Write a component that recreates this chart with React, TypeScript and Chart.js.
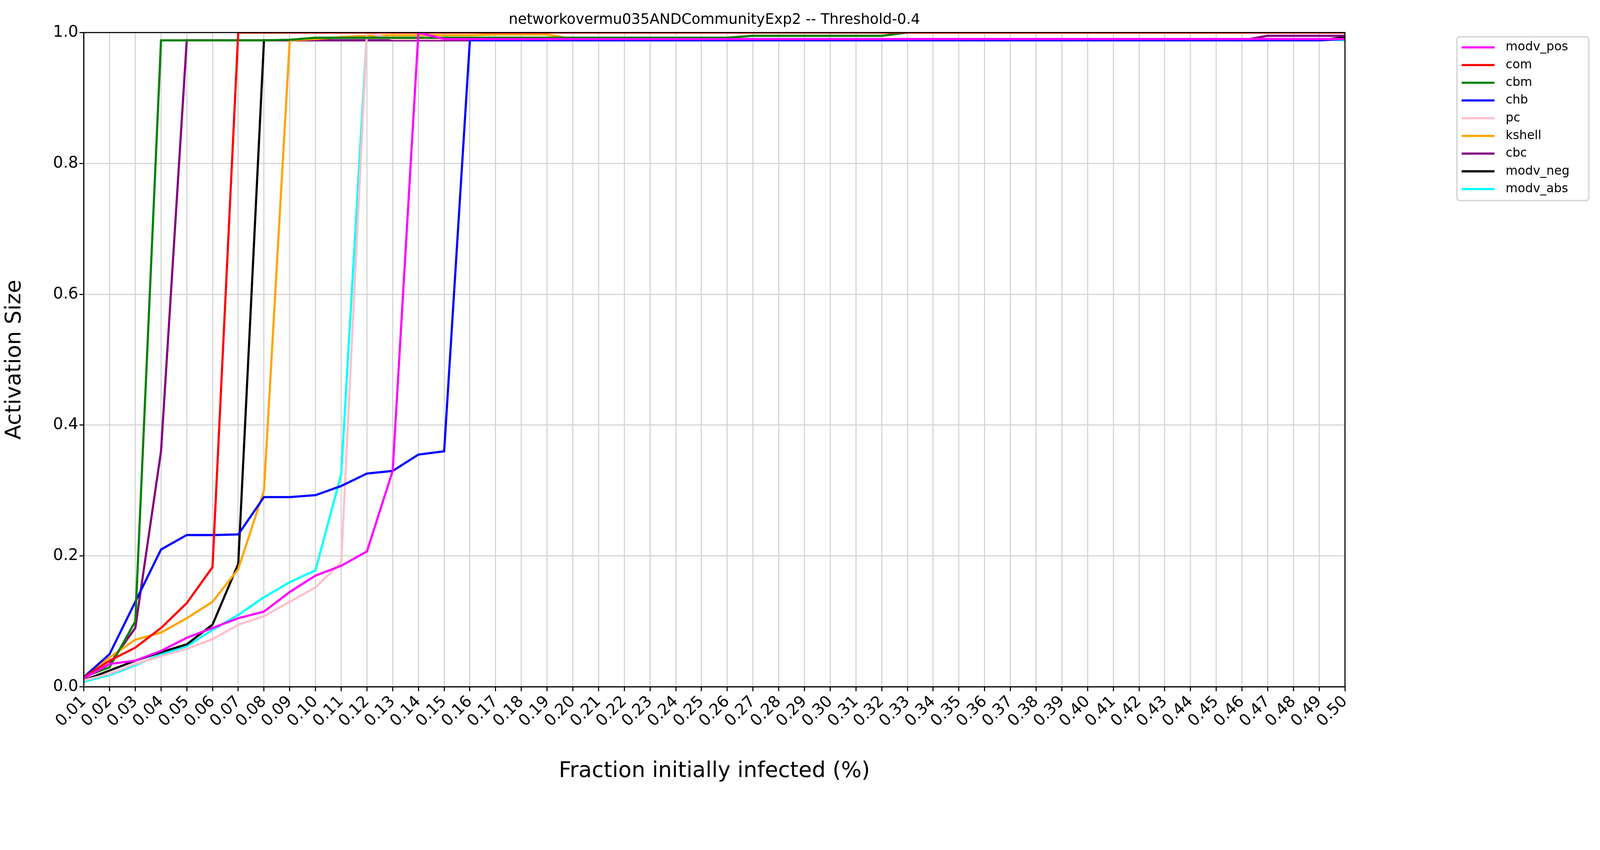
import React, { useEffect, useRef } from "react";
import { Chart, registerables } from "chart.js";

Chart.register(...registerables);

const fractions: string[] = [];
for (let i = 1; i <= 50; i++) fractions.push((i / 100).toFixed(2));

const fill = (head: number[], rest: number[]) => head.concat(rest);
const repeat = (v: number, n: number) => new Array(n).fill(v);

const modvPos = fill(
  [0.013, 0.035, 0.04, 0.055, 0.075, 0.09, 0.105, 0.115, 0.145, 0.17, 0.185, 0.207, 0.33, 1.0],
  repeat(0.99, 36)
);
const com = fill([0.015, 0.04, 0.06, 0.09, 0.128, 0.183, 1.0], repeat(1.0, 43));
const cbm = fill(
  [0.015, 0.03, 0.1, 0.988, 0.988, 0.988, 0.988, 0.988, 0.989, 0.992],
  fill(repeat(0.992, 16), fill(repeat(0.995, 6), repeat(1.0, 18)))
);
const chb = fill(
  [0.015, 0.05, 0.13, 0.21, 0.232, 0.232, 0.233, 0.29, 0.29, 0.293, 0.307, 0.326, 0.33, 0.355, 0.36, 0.988],
  fill(repeat(0.988, 33), [0.99])
);
const pc = fill(
  [0.01, 0.02, 0.035, 0.047, 0.058, 0.073, 0.095, 0.108, 0.13, 0.152, 0.19, 1.0],
  repeat(0.99, 38)
);
const kshell = fill(
  [0.015, 0.045, 0.072, 0.083, 0.105, 0.13, 0.18, 0.3, 0.988, 0.99, 0.993, 0.995, 0.996, 0.996, 0.996, 0.996, 0.997, 0.997, 0.997],
  repeat(0.99, 31)
);
const cbc = fill([0.013, 0.035, 0.09, 0.36, 0.988], fill(repeat(0.988, 41), [0.995, 0.995, 0.995, 0.995]));
const modvNeg = fill([0.01, 0.025, 0.04, 0.053, 0.065, 0.095, 0.188, 0.988], fill(repeat(0.988, 41), [0.993]));
const modvAbs = fill(
  [0.008, 0.018, 0.033, 0.05, 0.062, 0.087, 0.11, 0.137, 0.16, 0.178, 0.325, 1.0],
  fill(repeat(0.99, 37), [0.988])
);

const seriesNames = ["modv_pos", "com", "cbm", "chb", "pc", "kshell", "cbc", "modv_neg", "modv_abs"];
const seriesValues = [modvPos, com, cbm, chb, pc, kshell, cbc, modvNeg, modvAbs];
const seriesColors = ["#ff00ff", "#ff0000", "#008000", "#0000ff", "#ffc0cb", "#ffa500", "#800080", "#000000", "#00ffff"];

const W = 4429;
const H = 2175;
const FONT = "'DejaVu Sans', sans-serif";

export default function App() {
  const ref = useRef<HTMLCanvasElement | null>(null);
  // scale to whatever css viewport we actually get
  const s = Math.min(window.innerWidth / W, window.innerHeight / H) || 1;
  const cw = Math.floor(W * s);
  const ch = Math.floor(H * s);

  useEffect(() => {
    if (!ref.current) return;

    const decor = {
      id: "decor",
      afterDraw(chart: any) {
        const { ctx, chartArea: a } = chart;
        ctx.save();
        ctx.strokeStyle = "#000";
        ctx.lineWidth = 3 * s;
        ctx.strokeRect(a.left, a.top, a.right - a.left, a.bottom - a.top);
        ctx.fillStyle = "#000";
        ctx.font = `${40 * s}px ${FONT}`;
        ctx.textAlign = "center";
        ctx.textBaseline = "bottom";
        ctx.fillText("networkovermu035ANDCommunityExp2 -- Threshold-0.4", (a.left + a.right) / 2, a.top - 14 * s);
        // legend
        const lx = 4033 * s, ly = 102 * s, lw = 365 * s, lh = 453 * s;
        ctx.fillStyle = "#fff";
        ctx.strokeStyle = "#d6d6d6";
        ctx.lineWidth = 4 * s;
        ctx.beginPath();
        ctx.roundRect(lx, ly, lw, lh, 8 * s);
        ctx.fill();
        ctx.stroke();
        ctx.font = `${34 * s}px ${FONT}`;
        ctx.textAlign = "left";
        ctx.textBaseline = "middle";
        seriesNames.forEach((n, i) => {
          const y = ly + (29 + i * 49) * s;
          ctx.strokeStyle = seriesColors[i];
          ctx.lineWidth = 6 * s;
          ctx.beginPath();
          ctx.moveTo(lx + 13 * s, y);
          ctx.lineTo(lx + 104 * s, y);
          ctx.stroke();
          ctx.fillStyle = "#000";
          ctx.fillText(n, lx + 135 * s, y);
        });
        ctx.restore();
      },
    };

    const chart = new Chart(ref.current, {
      type: "line",
      data: {
        labels: fractions,
        datasets: seriesNames.map((n, i) => ({
          label: n,
          data: seriesValues[i],
          borderColor: seriesColors[i],
          backgroundColor: seriesColors[i],
          borderWidth: 6 * s,
          pointRadius: 0,
          tension: 0,
        })),
      },
      options: {
        animation: false,
        responsive: false,
        devicePixelRatio: window.devicePixelRatio || 1,
        layout: { padding: { top: 90 * s, right: 706 * s, left: 0, bottom: 0 } },
        plugins: { legend: { display: false }, tooltip: { enabled: false } },
        scales: {
          x: {
            offset: false,
            afterFit: (sc: any) => { sc.height = 274 * s; },
            grid: { color: "#d3d3d3", lineWidth: 3 * s, tickColor: "#000", tickLength: 12 * s },
            border: { color: "#000", width: 3 * s },
            ticks: { color: "#000", font: { size: 44 * s, family: FONT }, minRotation: 45, maxRotation: 45, autoSkip: false },
            title: { display: true, text: "Fraction initially infected (%)", color: "#000", font: { size: 60 * s, family: FONT }, padding: { top: 0 } },
          },
          y: {
            min: 0,
            max: 1,
            afterFit: (sc: any) => { sc.width = 232 * s; },
            grid: { color: "#d3d3d3", lineWidth: 3 * s, tickColor: "#000", tickLength: 12 * s },
            border: { color: "#000", width: 3 * s },
            ticks: { stepSize: 0.2, color: "#000", font: { size: 44 * s, family: FONT }, callback: (v: any) => Number(v).toFixed(1) },
            title: { display: true, text: "Activation Size", color: "#000", font: { size: 60 * s, family: FONT } },
          },
        },
      },
      plugins: [decor],
    });
    return () => chart.destroy();
  }, []);

  return (
    <div style={{ position: "absolute", left: 0, top: 0, width: cw, height: ch, background: "#fff", overflow: "hidden" }}>
      <canvas ref={ref} width={cw} height={ch} style={{ width: cw, height: ch }} />
    </div>
  );
}
